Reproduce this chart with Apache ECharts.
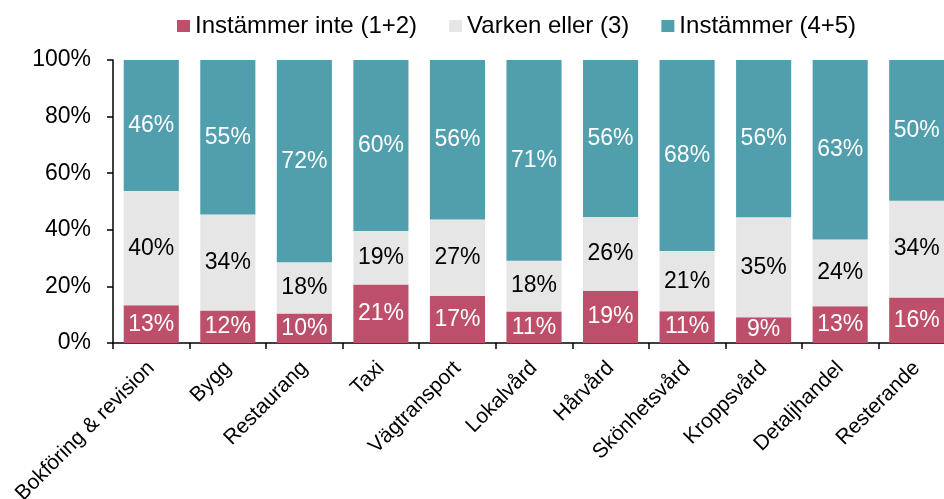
<!DOCTYPE html>
<html>
<head>
<meta charset="utf-8">
<script src="https://cdn.jsdelivr.net/npm/echarts@6/dist/echarts.min.js"></script>
<style>
  html, body { margin: 0; padding: 0; background: #fff; }
  #chart { width: 944px; height: 499px; }
</style>
</head>
<body>
<div id="chart"></div>
<script>
// kategorier och andelar (%)
var categories = ['Bokföring & revision', 'Bygg', 'Restaurang', 'Taxi', 'Vägtransport', 'Lokalvård',
                  'Hårvård', 'Skönhetsvård', 'Kroppsvård', 'Detaljhandel', 'Resterande'];
var disagree = [13.3, 11.5, 10.4, 20.7, 16.7, 11.1, 18.5, 11.2, 9.1, 13.0, 16.1];
var neutral  = [40.4, 33.9, 18.1, 18.9, 26.9, 18.0, 26.0, 21.3, 35.3, 23.6, 34.2];
var agree    = [46.3, 54.6, 71.5, 60.4, 56.4, 70.9, 55.5, 67.5, 55.6, 63.4, 49.7];
var seriesNames = ['Instämmer inte (1+2)', 'Varken eller (3)', 'Instämmer (4+5)'];
var yTicks = [0, 20, 40, 60, 80, 100];

var FONT = '"Liberation Sans", Arial, sans-serif';

var makeSeries = function (name, data, color, labelColor) {
  return {
    name: name,
    type: 'bar',
    stack: 'total',
    barCategoryGap: '28%',
    itemStyle: { color: color },
    label: {
      show: true,
      position: 'inside',
      color: labelColor,
      fontFamily: FONT,
      fontSize: 23,
      formatter: function (p) { return Math.round(p.value) + '%'; }
    },
    data: data
  };
};

var myChart = echarts.init(document.getElementById('chart'));
var option = {
  backgroundColor: '#fff',
  animation: false,
  legend: {
    left: 172,
    top: 9,
    icon: 'rect',
    itemWidth: 13,
    itemHeight: 12,
    itemGap: 32,
    textStyle: { fontFamily: FONT, fontSize: 24, color: '#000' },
    data: seriesNames
  },
  grid: {
    left: 113,
    top: 60,
    width: 842,
    height: 283,
    containLabel: false,
    outerBoundsMode: 'none'
  },
  xAxis: {
    type: 'category',
    data: categories,
    axisLine: { lineStyle: { color: '#000', width: 1.5 } },
    axisTick: { show: true, length: 6, lineStyle: { color: '#000', width: 1.5 } },
    axisLabel: {
      interval: 0,
      rotate: 45,
      margin: 22,
      fontFamily: FONT,
      fontSize: 21,
      color: '#000'
    }
  },
  yAxis: {
    type: 'value',
    min: yTicks[0],
    max: yTicks[yTicks.length - 1],
    interval: yTicks[1] - yTicks[0],
    splitLine: { show: false },
    axisLine: { show: true, lineStyle: { color: '#000', width: 1.5 } },
    axisTick: { show: true, length: 6, lineStyle: { color: '#000', width: 1.5 } },
    axisLabel: {
      margin: 22,
      fontFamily: FONT,
      fontSize: 23,
      color: '#000',
      formatter: '{value}%'
    }
  },
  series: [
    makeSeries(seriesNames[0], disagree, '#BD4F6B', '#fff'),
    makeSeries(seriesNames[1], neutral, '#E6E6E6', '#000'),
    makeSeries(seriesNames[2], agree, '#519EAD', '#fff')
  ]
};
myChart.setOption(option);
</script>
</body>
</html>
